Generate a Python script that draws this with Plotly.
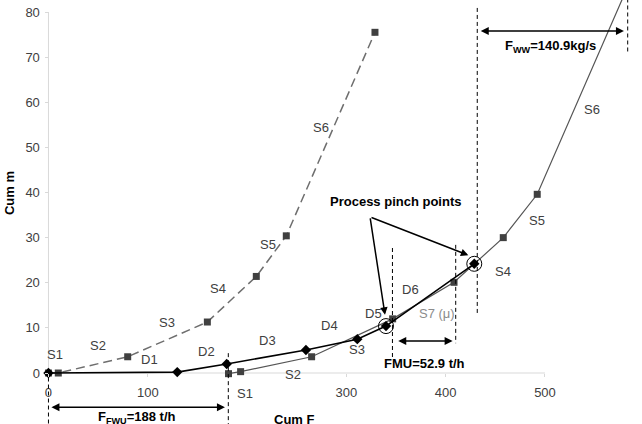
import plotly.graph_objects as go

# ---------------- data ----------------
# source composite curve (dashed, starting at 0)
src_x = [0, 9.9, 79.8, 160, 209.3, 239.5, 328.8]
src_y = [0, 0, 3.6, 11.3, 21.4, 30.4, 75.5]
src_labels = ["S1", "S2", "S3", "S4", "S5", "S6"]
src_label_x = [6.5, 50.2, 119, 171, 220.7, 274]
src_label_y = [4.0, 6.2, 11.3, 18.7, 28.4, 54.4]

# demand composite curve (black diamonds)
dem_x = [0, 129.7, 179.5, 259.3, 311, 339.9, 428.8]
dem_y = [0, 0.2, 2.0, 5.1, 7.5, 10.4, 24.2]
dem_labels = ["D1", "D2", "D3", "D4", "D5", "D6"]
dem_label_x = [102.2, 159.3, 220.7, 283.5, 327.8, 364.7]
dem_label_y = [3.0, 4.7, 7.3, 10.5, 13.1, 18.5]

# shifted source curve (solid grey squares)
shf_x = [181.3, 193.5, 265, 346.6, 408.4, 458, 492.2, 581.5]
shf_y = [-0.15, 0.3, 3.6, 12.0, 20.1, 30.0, 39.6, 84.7]
shf_labels = ["S1", "S2", "S3", "S7 (μ)", "S4", "S5", "S6"]
shf_label_x = [197.9, 246.5, 310.4, 391, 458, 491.6, 547]
shf_label_y = [-4.5, -0.4, 5.1, 13.1, 22.4, 33.9, 58.3]

# process pinch points
pinch_x = [339.9, 428.8]
pinch_y = [10.4, 24.2]

# the reference shows no "200" label (the S1 label sits there)
x_ticks = [0, 100, 300, 400, 500]
y_ticks = [0, 10, 20, 30, 40, 50, 60, 70, 80]

X_RANGE = [-48.8, 597.7]
Y_RANGE = [-11.3, 82.66]

FONT = "Liberation Sans, Arial, sans-serif"
DARK = "#404040"

fig = go.Figure()

fig.add_trace(go.Scatter(
    x=src_x, y=src_y, mode="lines+markers",
    line=dict(color="#6e6e6e", width=1.5, dash="9px,5px"),
    marker=dict(symbol="square", size=7, color=DARK),
    cliponaxis=False, hoverinfo="skip"))

fig.add_trace(go.Scatter(
    x=shf_x, y=shf_y, mode="lines+markers",
    line=dict(color="#555555", width=1.2),
    marker=dict(symbol="square", size=7, color=DARK),
    hoverinfo="skip"))

fig.add_trace(go.Scatter(
    x=dem_x, y=dem_y, mode="lines+markers",
    line=dict(color="black", width=1.6),
    marker=dict(symbol="diamond", size=8, color="black"),
    cliponaxis=False, hoverinfo="skip"))

fig.add_trace(go.Scatter(
    x=pinch_x, y=pinch_y, mode="markers",
    marker=dict(symbol="circle-open", size=15, color="black", line=dict(width=1)),
    hoverinfo="skip"))

# segment labels
for xs, ys, ts in [(src_label_x, src_label_y, src_labels),
                   (dem_label_x, dem_label_y, dem_labels),
                   (shf_label_x, shf_label_y, shf_labels)]:
    for x, y, t in zip(xs, ys, ts):
        c = "#8c8c8c" if "μ" in t else DARK
        fig.add_annotation(x=x, y=y, text=t, showarrow=False,
                           font=dict(family=FONT, size=13, color=c))

# axis lines (Excel style, only over the value range)
fig.add_shape(type="line", x0=0, x1=500, y0=0, y1=0, line=dict(color="#d9d9d9", width=1), layer="below")
fig.add_shape(type="line", x0=0, x1=0, y0=0, y1=80, line=dict(color="#d9d9d9", width=1), layer="below")

# dashed guide lines
vdash = dict(color="black", width=1, dash="4px,3px")
for x, y0, y1 in [(0, -1.0, -11.3), (181.1, 4.4, -11.3),
                  (346.4, 27.7, 3.3), (410.1, 28.4, 6.6),
                  (431.8, 80.9, 12.9), (583.3, 83, 71.1)]:
    fig.add_shape(type="line", x0=x, x1=x, y0=y0, y1=y1, line=vdash)

# double arrows
for x0, x1, y in [(1.5, 177.7, -7.6), (350.7, 407.0, 7.1), (433.8, 579.5, 75.8)]:
    fig.add_annotation(x=x1, y=y, ax=x0, ay=y, axref="x", ayref="y", text="",
                       showarrow=True, arrowhead=2, arrowside="end+start",
                       arrowsize=1, arrowwidth=1.6, arrowcolor="black",
                       standoff=0, startstandoff=0)

# pinch arrows
for tx, ty in [(338.9, 12.9), (422.8, 26.1)]:
    fig.add_annotation(x=tx, y=ty, ax=323.8, ay=34.6, axref="x", ayref="y", text="",
                       showarrow=True, arrowhead=2, arrowsize=1, arrowwidth=1.5,
                       arrowcolor="black", standoff=0)

bold = dict(family=FONT, size=13, color="black")
fig.add_annotation(x=349, y=38, text="<b>Process pinch points</b>", showarrow=False, font=bold)
fig.add_annotation(x=505.7, y=72.3, text="<b>F<sub>WW</sub>=140.9kg/s</b>", showarrow=False, font=bold)
fig.add_annotation(x=378.2, y=2.15, text="<b>FMU=52.9 t/h</b>", showarrow=False, font=bold)
fig.add_annotation(x=88.8, y=-9.8, text="<b>F<sub>FWU</sub>=188 t/h</b>", showarrow=False, font=bold)

# axis titles (placed where the reference has them)
fig.add_annotation(x=248, y=-10.2, text="<b>Cum F</b>", showarrow=False, font=bold)
fig.add_annotation(x=-38.6, y=39.9, text="<b>Cum m</b>", showarrow=False, font=bold, textangle=-90)

fig.update_layout(
    width=642, height=424,
    margin=dict(l=0, r=0, t=0, b=0),
    paper_bgcolor="white", plot_bgcolor="white",
    showlegend=False,
    font=dict(family=FONT, size=13, color=DARK),
    xaxis=dict(range=X_RANGE, anchor="free", position=11.3 / 93.96,
               tickvals=x_ticks, showgrid=False, zeroline=False, showline=False,
               ticks="outside", ticklen=3, tickcolor="#d9d9d9",
               tickfont=dict(family=FONT, size=13, color=DARK),
               ticklabelstandoff=4, automargin=False),
    yaxis=dict(range=Y_RANGE, anchor="free", position=48.8 / 646.5,
               tickvals=y_ticks, showgrid=False, zeroline=False, showline=False,
               ticks="outside", ticklen=3, tickcolor="#d9d9d9",
               tickfont=dict(family=FONT, size=13, color=DARK),
               ticklabelstandoff=3, automargin=False),
)

fig.write_html("out.html")
